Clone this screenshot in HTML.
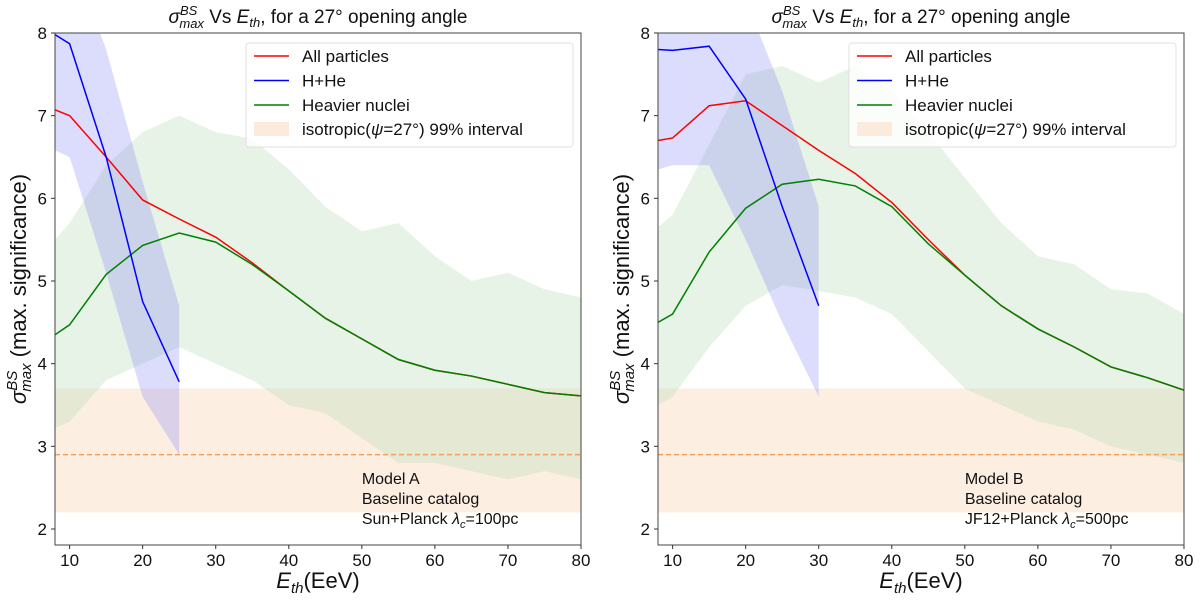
<!DOCTYPE html>
<html><head><meta charset="utf-8"><style>
body{margin:0;background:#fff;width:1200px;height:600px;overflow:hidden;font-family:"Liberation Sans","DejaVu Sans",sans-serif}
</style></head><body>
<svg id="chart" width="1200" height="600" xmlns="http://www.w3.org/2000/svg" font-family="Liberation Sans, DejaVu Sans, sans-serif"></svg>
<script>
const xs = [8,10,15,20,25,30,35,40,45,50,55,60,65,70,75,80];
const xsBlueA = [8,10,15,20,25];
const xsBlueB = [8,10,15,20,25,30];
const yTicks = [2,3,4,5,6,7,8];
const xTicks = [10,20,30,40,50,60,70,80];
const isoLow = 2.2, isoHigh = 3.7, isoMid = 2.9;

const allA = [7.07,7.0,6.5,5.98,5.75,5.53,5.22,4.88,4.55,4.3,4.05,3.92,3.85,3.75,3.65,3.61];
const heavyA = [4.35,4.47,5.08,5.43,5.58,5.47,5.2,4.88,4.55,4.3,4.05,3.92,3.85,3.75,3.65,3.61];
const heavyHiA = [5.5,5.7,6.4,6.8,7.0,6.8,6.72,6.35,5.9,5.6,5.7,5.3,5.0,5.1,4.9,4.8];
const heavyLoA = [3.22,3.3,3.8,4.0,4.2,4.0,3.8,3.5,3.4,3.1,2.8,2.8,2.7,2.6,2.7,2.6];
const lightA = [7.98,7.87,6.5,4.75,3.78];
const lightHiA = [9.0,9.0,7.8,6.2,4.7];
const lightLoA = [6.58,6.5,5.1,3.6,2.9];

const allB = [6.7,6.73,7.12,7.18,6.88,6.58,6.3,5.95,5.5,5.07,4.7,4.42,4.2,3.96,3.83,3.68];
const heavyB = [4.5,4.6,5.35,5.88,6.17,6.23,6.15,5.9,5.45,5.07,4.7,4.42,4.2,3.96,3.83,3.68];
const heavyHiB = [5.65,5.8,6.65,7.5,7.6,7.4,7.6,7.3,6.8,6.25,5.7,5.3,5.2,4.9,4.85,4.6];
const heavyLoB = [3.5,3.6,4.2,4.7,4.95,4.88,4.8,4.6,4.15,3.7,3.5,3.3,3.2,3.0,2.9,2.8];
const lightB = [7.8,7.79,7.84,7.2,5.9,4.7];
const lightHiB = [8.5,8.5,8.5,8.4,7.3,5.9];
const lightLoB = [6.35,6.4,6.4,5.5,4.5,3.6];

const NS='http://www.w3.org/2000/svg';
const svg=document.getElementById('chart');
function mk(tag,attrs,parent){const e=document.createElementNS(NS,tag);for(const k in attrs)e.setAttribute(k,attrs[k]);(parent||svg).appendChild(e);return e;}

function panel(x0,x1,label,allv,heavy,hHi,hLo,xb,light,lHi,lLo,notes){
  const y0=33,y1=545;
  const X=v=>x0+(v-8)*(x1-x0)/72;
  const Y=v=>529-(v-2)*82.67;
  const g=mk('g',{});
  
  
  const cid='clip'+label;
  const cp=mk('clipPath',{id:cid},g);mk('rect',{x:x0,y:y0,width:x1-x0,height:y1-y0},cp);
  const pg=mk('g',{'clip-path':'url(#'+cid+')'},g);
  const iso=mk('rect',{x:x0,y:Y(isoHigh),width:x1-x0,height:Y(isoLow)-Y(isoHigh),fill:'#fbe3cf',opacity:0.6},pg);
  
  
  function band(xv,hi,lo,fill,op,name){
    let d='M'+xv.map((x,i)=>X(x)+','+Y(hi[i])).join('L');
    d+='L'+xv.slice().reverse().map((x,i)=>X(x)+','+Y(lo[xv.length-1-i])).join('L')+'Z';
    const p=mk('path',{d:d,fill:fill,opacity:op},pg);
    
    
  }
  band(xs,hHi,hLo,'#b6dcb6',0.35,'heavier-band');
  band(xb,lHi,lLo,'#8c8cf5',0.3,'h-he-band');
  const dl=mk('line',{x1:x0,x2:x1,y1:Y(isoMid),y2:Y(isoMid),stroke:'#f5a05a','stroke-width':1.5,'stroke-dasharray':'5,3'},pg);
  
  
  function line(xv,v,c,name){
    const p=mk('polyline',{points:xv.map((x,i)=>X(x)+','+Y(v[i])).join(' '),fill:'none',stroke:c,'stroke-width':1.5},pg);
    
    
  }
  line(xs,allv,'#ff0000','all-particles-line');
  line(xs,heavy,'#008000','heavier-nuclei-line');
  line(xb,light,'#0000ff','h-he-line');
  mk('rect',{x:x0,y:y0,width:x1-x0,height:y1-y0,fill:'none',stroke:'#444','stroke-width':1},g);
  yTicks.forEach(t=>{mk('line',{x1:x0-4,x2:x0,y1:Y(t),y2:Y(t),stroke:'#333'},g);
    const tx=mk('text',{x:x0-8,y:Y(t)+6,'font-size':17,'text-anchor':'end',fill:'#111'},g);tx.textContent=t;
    });
  xTicks.forEach(t=>{mk('line',{x1:X(t),x2:X(t),y1:y1,y2:y1+4,stroke:'#333'},g);
    const tx=mk('text',{x:X(t),y:y1+21,'font-size':17,'text-anchor':'middle',fill:'#111'},g);tx.textContent=t;
    });
  const cx=(x0+x1)/2;
  const title=mk('text',{x:cx,y:23,'font-size':19,'text-anchor':'middle',fill:'#111'},g);
  title.innerHTML='<tspan font-style="italic">σ</tspan><tspan font-size="13" font-style="italic" dy="-8">BS</tspan><tspan font-size="13" font-style="italic" dx="-18" dy="13">max</tspan><tspan dy="-5"> Vs </tspan><tspan font-style="italic">E</tspan><tspan font-size="13" font-style="italic" dy="4">th</tspan><tspan dy="-4">, for a 27° opening angle</tspan>';
  
  const xl=mk('text',{x:cx,y:588,'font-size':22,'text-anchor':'middle',fill:'#111'},g);
  xl.innerHTML='<tspan font-style="italic">E</tspan><tspan font-size="15" font-style="italic" dy="5">th</tspan><tspan dy="-5">(EeV)</tspan>';
  
  const yl=mk('text',{transform:'translate('+(x0-29)+',289) rotate(-90)','font-size':22,'text-anchor':'middle',fill:'#111'},g);
  yl.innerHTML='<tspan font-style="italic">σ</tspan><tspan font-size="15" font-style="italic" dy="-9">BS</tspan><tspan font-size="15" font-style="italic" dx="-21" dy="14">max</tspan><tspan dy="-5"> (max. significance)</tspan>';
  
  // legend
  const lx=x0+191, ly=43;
  const lg=mk('g',{},g);
  
  mk('rect',{x:lx,y:ly,width:327,height:104,rx:3,fill:'#fff',opacity:0.85,stroke:'#ddd'},lg);
  const items=[['All particles','#ff0000'],['H+He','#0000ff'],['Heavier nuclei','#008000']];
  items.forEach((it,i)=>{const yy=ly+13+i*24.5;
    mk('line',{x1:lx+8,x2:lx+43,y1:yy,y2:yy,stroke:it[1],'stroke-width':1.5},lg);
    const t=mk('text',{x:lx+56,y:yy+6,'font-size':17,fill:'#111'},lg);t.textContent=it[0];
    });
  mk('rect',{x:lx+8,y:ly+86-7,width:35,height:14,fill:'#fbe3cf',opacity:0.7},lg);
  const t4=mk('text',{x:lx+56,y:ly+92,'font-size':17,fill:'#111'},lg);
  t4.innerHTML='isotropic(<tspan font-style="italic">ψ</tspan>=27°) 99% interval';
  
  // notes
  notes.forEach((n,i)=>{const t=mk('text',{x:X(50),y:484+i*20,'font-size':16,fill:'#111'},g);t.innerHTML=n;
    });
}
panel(55,581,'model-a',allA,heavyA,heavyHiA,heavyLoA,xsBlueA,lightA,lightHiA,lightLoA,
  ['Model A','Baseline catalog','Sun+Planck <tspan font-style="italic">λ</tspan><tspan font-size="11" font-style="italic" dy="4">c</tspan><tspan dy="-4">=100pc</tspan>']);
panel(658,1184,'model-b',allB,heavyB,heavyHiB,heavyLoB,xsBlueB,lightB,lightHiB,lightLoB,
  ['Model B','Baseline catalog','JF12+Planck <tspan font-style="italic">λ</tspan><tspan font-size="11" font-style="italic" dy="4">c</tspan><tspan dy="-4">=500pc</tspan>']);
</script>
</body></html>
